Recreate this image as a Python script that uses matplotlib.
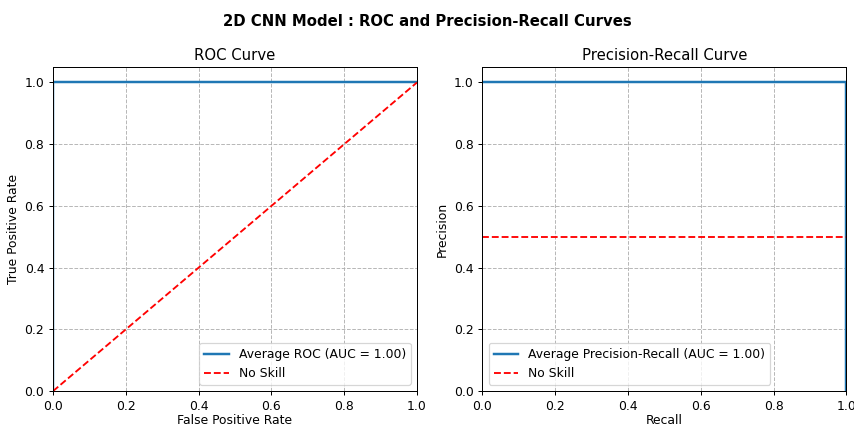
import matplotlib
matplotlib.use("Agg")
import matplotlib.pyplot as plt

# ROC curve points (averaged)
fpr = [0.0, 0.0, 1.0]
tpr = [0.0, 1.0, 1.0]
roc_auc = 1.00

# Precision-recall curve points (averaged)
recall = [0.0, 1.0, 1.0]
precision = [1.0, 1.0, 0.0]
pr_auc = 1.00

# No-skill baselines
roc_noskill_x = [0.0, 1.0]
roc_noskill_y = [0.0, 1.0]
pr_noskill_x = [0.0, 1.0]
pr_noskill_y = [0.5, 0.5]

DPI = 89
fig, (ax1, ax2) = plt.subplots(1, 2, figsize=(855 / DPI, 427 / DPI), dpi=DPI)
fig.subplots_adjust(left=0.062, right=0.99, bottom=0.084, top=0.843, wspace=0.18)

ax1.plot(fpr, tpr, color="tab:blue", lw=2, label=f"Average ROC (AUC = {roc_auc:.2f})")
ax1.plot(roc_noskill_x, roc_noskill_y, "r--", lw=1.5, label="No Skill")
ax1.set_xlim(0.0, 1.0)
ax1.set_ylim(0.0, 1.05)
ax1.set_xlabel("False Positive Rate", labelpad=1)
ax1.set_ylabel("True Positive Rate")
ax1.set_title("ROC Curve")
ax1.legend(loc="lower right")
ax1.grid(True, linestyle="--", alpha=0.9)

ax2.plot(recall, precision, color="tab:blue", lw=2,
         label=f"Average Precision-Recall (AUC = {pr_auc:.2f})")
ax2.plot(pr_noskill_x, pr_noskill_y, "r--", lw=1.5, label="No Skill")
ax2.set_xlim(0.0, 1.0)
ax2.set_ylim(0.0, 1.05)
ax2.set_xlabel("Recall", labelpad=1)
ax2.set_ylabel("Precision")
ax2.set_title("Precision-Recall Curve")
ax2.legend(loc="lower left")
ax2.grid(True, linestyle="--", alpha=0.9)

fig.suptitle("2D CNN Model : ROC and Precision-Recall Curves", fontsize=12, fontweight="bold", y=0.968)

fig.savefig("out.png", dpi=DPI)
